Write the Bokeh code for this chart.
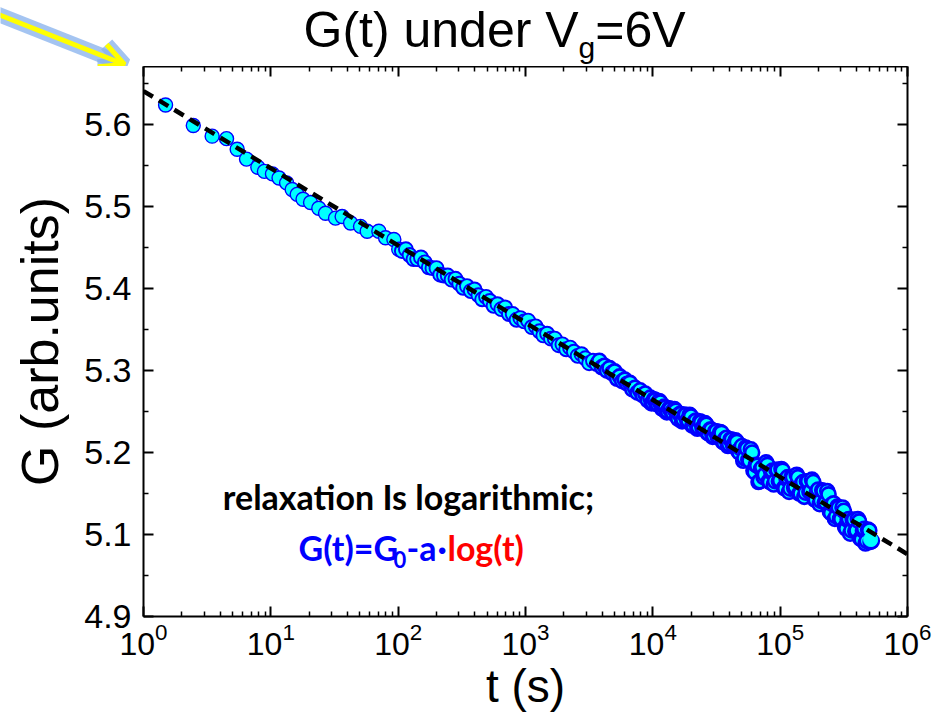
import math
from bokeh.plotting import figure
from bokeh.layouts import column
from bokeh.models import (FixedTicker, LogAxis, LinearAxis, Label, Arrow, OpenHead,
                          CustomJSTickFormatter, Range1d)
from bokeh.embed import file_html
from bokeh.resources import INLINE

# ---------------- data ----------------
t_early = [1.49, 2.46, 3.46, 4.49, 5.44, 6.44, 7.9, 8.9, 10.3, 11.6, 13.3, 14.7, 16.1,
           17.9, 20.5, 23.8, 26.9, 32.2, 36.3, 42.3, 50.6, 57.1, 70.5, 79.6, 92.5, 101]
g_early = [5.624, 5.599, 5.586, 5.583, 5.570, 5.558, 5.548, 5.543, 5.540, 5.535, 5.529,
           5.521, 5.515, 5.509, 5.505, 5.498, 5.492, 5.486, 5.488, 5.480, 5.476, 5.470,
           5.470, 5.462, 5.460, 5.448]

t_mid = [107, 115, 123, 132, 141, 151, 162, 174, 186, 200, 214, 229, 245, 263, 282, 302,
         324, 347, 372, 398, 427, 457, 490, 525, 562, 603, 646, 692, 741, 794, 851, 912,
         977, 1047, 1122, 1202, 1288, 1380, 1479, 1585, 1698, 1820, 1950, 2089, 2239,
         2399, 2570, 2754, 2951, 3162, 3388, 3631]
g_mid = [5.446, 5.448, 5.441, 5.436, 5.436, 5.438, 5.432, 5.426, 5.425, 5.425, 5.417,
         5.416, 5.416, 5.411, 5.412, 5.406, 5.401, 5.403, 5.397, 5.399, 5.392, 5.387,
         5.390, 5.385, 5.379, 5.381, 5.375, 5.377, 5.369, 5.369, 5.362, 5.364, 5.360,
         5.361, 5.353, 5.354, 5.348, 5.343, 5.345, 5.339, 5.339, 5.331, 5.332, 5.326,
         5.328, 5.323, 5.318, 5.320, 5.315, 5.309, 5.312, 5.308]

t_late_a = [3802, 3981, 4169, 4365, 4571, 4786, 5012, 5248, 5495, 5754, 6026, 6310, 6607,
            6918, 7244, 7586, 7943, 8318, 8710, 9120, 9550, 10000, 10470, 10960, 11480,
            12020, 12590, 13180, 13800, 14450, 15140, 15850, 16600, 17380, 18200, 19050,
            19950, 20890, 21880, 22910, 23990, 25120, 26300, 27540, 28840, 30200, 31620,
            33110, 34670, 36310, 38020, 39810, 41690, 43650, 45710, 47860, 50120, 52480,
            54950, 57540, 60260, 63100, 66070, 69180, 72440, 75860, 79430, 83180, 87100,
            91200, 95500, 100000, 104700, 109600, 114800, 120200, 125900, 131800, 138000,
            144500, 151400, 158500, 166000, 173800, 182000, 190500, 199500, 208900, 218800,
            229100, 239900, 251200, 263000, 275400, 288400, 302000, 316200, 331100, 346700,
            363100, 380200, 398100, 416900, 436500, 457100, 478600, 501200, 524800]
g_late_a = [5.312, 5.304, 5.306, 5.300, 5.303, 5.297, 5.299, 5.290, 5.293, 5.287, 5.289,
            5.284, 5.285, 5.277, 5.279, 5.273, 5.276, 5.270, 5.272, 5.264, 5.267, 5.261,
            5.264, 5.259, 5.261, 5.253, 5.255, 5.250, 5.253, 5.248, 5.251, 5.241, 5.247,
            5.240, 5.246, 5.239, 5.244, 5.233, 5.239, 5.231, 5.237, 5.230, 5.234, 5.223,
            5.228, 5.220, 5.226, 5.219, 5.224, 5.212, 5.218, 5.210, 5.216, 5.209, 5.213,
            5.200, 5.208, 5.193, 5.205, 5.190, 5.200, 5.176, 5.184, 5.165, 5.182, 5.173,
            5.185, 5.164, 5.178, 5.165, 5.179, 5.166, 5.178, 5.156, 5.170, 5.156, 5.170,
            5.158, 5.170, 5.150, 5.164, 5.151, 5.165, 5.153, 5.164, 5.142, 5.155, 5.141,
            5.153, 5.139, 5.149, 5.126, 5.138, 5.122, 5.133, 5.119, 5.129, 5.107, 5.119,
            5.105, 5.118, 5.105, 5.116, 5.094, 5.107, 5.092, 5.105, 5.092]

t_late_b = [9772, 10230, 10720, 11220, 11750, 12300, 12880, 13490, 14130, 14790, 15490,
            16220, 16980, 17780, 18620, 19500, 20420, 21380, 22390, 23440, 24550, 25700,
            26920, 28180, 29510, 30900, 32360, 33880, 35480, 37150, 38900, 40740, 42660,
            44670, 46770, 48980, 51290, 53700, 56230, 58880, 61660, 64570, 67610, 70790,
            74130, 77620, 81280, 85110, 89130, 93330, 97720, 102300, 107200, 112200,
            117500, 123000, 128800, 134900, 141300, 147900, 154900, 162200, 169800,
            177800, 186200, 195000, 204200, 213800, 223900, 234400, 245500, 257000,
            269200, 281800, 295100, 309000, 323600, 338800, 354800, 371500, 389000,
            407400, 426600, 446700, 467700, 489800, 512900]
g_late_b = [5.260, 5.265, 5.259, 5.263, 5.254, 5.256, 5.249, 5.254, 5.249, 5.253, 5.244,
            5.247, 5.238, 5.246, 5.239, 5.246, 5.233, 5.238, 5.229, 5.238, 5.230, 5.236,
            5.224, 5.228, 5.219, 5.226, 5.219, 5.225, 5.213, 5.217, 5.208, 5.216, 5.209,
            5.215, 5.202, 5.205, 5.190, 5.206, 5.191, 5.204, 5.178, 5.185, 5.164, 5.180,
            5.170, 5.188, 5.165, 5.176, 5.161, 5.179, 5.165, 5.180, 5.157, 5.168, 5.152,
            5.170, 5.157, 5.173, 5.150, 5.162, 5.146, 5.165, 5.152, 5.167, 5.143, 5.153,
            5.137, 5.154, 5.139, 5.153, 5.128, 5.137, 5.119, 5.134, 5.119, 5.133, 5.109,
            5.118, 5.101, 5.118, 5.104, 5.119, 5.095, 5.105, 5.089, 5.106, 5.091]

t_last = [513000]
g_last = [5.094]

late = sorted(zip(t_late_a + t_late_b, g_late_a + g_late_b))
t_late = [v[0] for v in late]
g_late = [v[1] for v in late]

# logarithmic fit G(t) = G0 - a*log(t): end points of the dashed line
fit_t = [1.0, 1.0e6]
fit_g = [5.641, 5.076]

x_tick_values = [1, 10, 100, 1000, 10000, 100000, 1000000]
x_minor_ticks = [m * 10 ** k for k in range(6) for m in range(2, 10)]
y_tick_values = [5.0, 5.1, 5.2, 5.3, 5.4, 5.5, 5.6]
y_tick_labels = ["4.9", "5.1", "5.2", "5.3", "5.4", "5.5", "5.6"]
y_minor_ticks = [5.05, 5.15, 5.25, 5.35, 5.45, 5.55, 5.65]

# ---------------- layout ----------------
W, H = 951, 727
STRIP = 66                                # height of the title strip
FL, FR, FT, FB = 143, 907, 67, 616        # frame edges (page pixels)
X0, X1 = 1.0, 1.0e6
Y0, Y1 = 5.0, 5.671
FONT = "Liberation Sans"
AF = "Lato"
BL = 0.45                                 # baseline correction (fraction of font size)


def px_to_t(px):
    lo, hi = math.log10(X0), math.log10(X1)
    return 10 ** (lo + (px - FL) / (FR - FL) * (hi - lo))


def py_to_g(py):
    return Y0 + (FB - py) / (FB - FT) * (Y1 - Y0)


# ---------------- title strip ----------------
s = figure(width=W, height=STRIP, x_range=Range1d(0, W), y_range=Range1d(STRIP, 0),
           output_backend="svg", toolbar_location=None, title=None,
           x_axis_location=None, y_axis_location=None,
           min_border_left=0, min_border_right=0, min_border_top=0, min_border_bottom=0)
s.frame_align = False
s.outline_line_color = None
s.xgrid.visible = False
s.ygrid.visible = False
s.background_fill_color = "white"
s.border_fill_color = "white"

AW = {"G": .778, "(": .333, "t": .278, ")": .333, " ": .278, "u": .556, "n": .556,
      "d": .556, "e": .556, "r": .333, "V": .667, "g": .556, "=": .584, "6": .556}


def aw(txt, size):
    return sum(AW[c] for c in txt) * size


TS, SS = 50, 30
tx = 303
for txt, size, base in [("G(t) under V", TS, 52), ("g", SS, 60), ("=6V", TS, 52)]:
    s.add_layout(Label(x=tx, y=base - BL * size, text=txt, text_font=FONT,
                       text_font_size=f"{size}px", text_color="black",
                       text_baseline="alphabetic"))
    tx += aw(txt, size)

ax0, ay0, ax1, ay1 = -12, 10, 124, 64
s.add_layout(Arrow(x_start=ax0, y_start=ay0, x_end=ax1, y_end=ay1,
                   line_color="#86b0ec", line_alpha=0.75, line_width=15,
                   end=OpenHead(size=24, line_color="#86b0ec", line_alpha=0.75, line_width=15)))
s.add_layout(Arrow(x_start=ax0, y_start=ay0, x_end=ax1, y_end=ay1,
                   line_color="#FFFF00", line_width=5,
                   end=OpenHead(size=24, line_color="#FFFF00", line_width=5)))

# ---------------- main plot ----------------
p = figure(width=W, height=H - STRIP, x_axis_type="log",
           x_range=Range1d(X0, X1), y_range=Range1d(Y0, Y1),
           output_backend="svg", toolbar_location=None, title=None,
           min_border_left=FL, min_border_right=W - FR,
           min_border_top=0, min_border_bottom=H - FB)
p.frame_align = False
p.outline_line_color = None
p.xgrid.visible = False
p.ygrid.visible = False
p.background_fill_color = "white"
p.border_fill_color = "white"

xt = FixedTicker(ticks=x_tick_values, minor_ticks=x_minor_ticks)
yt = FixedTicker(ticks=y_tick_values, minor_ticks=y_minor_ticks)
yfmt = CustomJSTickFormatter(args=dict(vals=y_tick_values, labs=y_tick_labels), code="""
let best = 0, bd = Infinity;
for (let i = 0; i < vals.length; i++) { const d = Math.abs(vals[i] - tick); if (d < bd) { bd = d; best = i; } }
return labs[best];
""")
blank = CustomJSTickFormatter(code="return '';")


def style_axis(ax):
    ax.axis_line_width = 2
    ax.axis_line_color = "black"
    ax.major_tick_line_width = 2
    ax.minor_tick_line_width = 1.5
    ax.major_tick_in = 10
    ax.major_tick_out = 0
    ax.minor_tick_in = 5
    ax.minor_tick_out = 0
    ax.major_label_text_font = FONT
    ax.major_label_text_color = "black"
    ax.axis_label_text_font = FONT
    ax.axis_label_text_font_style = "normal"
    ax.axis_label_text_color = "black"


xa = p.xaxis[0]
xa.ticker = xt
style_axis(xa)
xa.major_label_text_font_size = "32px"
xa.major_label_standoff = 6
xa.axis_label = "t (s)"
xa.axis_label_text_font_size = "46px"
xa.axis_label_standoff = 2

ya = p.yaxis[0]
ya.ticker = yt
ya.formatter = yfmt
style_axis(ya)
ya.major_label_text_font_size = "34px"
ya.major_label_standoff = 12
ya.axis_label = "G (arb.units)"
ya.axis_label_text_font_size = "52px"
ya.axis_label_standoff = 12

top = LogAxis(ticker=xt, formatter=blank)
style_axis(top)
top.major_label_text_font_size = "1px"
top.major_label_standoff = 0
p.add_layout(top, "above")
right = LinearAxis(ticker=yt, formatter=blank)
style_axis(right)
right.major_label_text_font_size = "1px"
right.major_label_standoff = 0
p.add_layout(right, "right")

p.scatter(t_early, g_early, size=14, fill_color="#00FFFF", line_color="#0000FF", line_width=1.4)
p.scatter(t_mid, g_mid, size=14, fill_color="#00FFFF", line_color="#0000FF", line_width=1.9)
p.scatter(t_late, g_late, size=14, fill_color="#00FFFF", line_color="#0000FF", line_width=2.6)
p.scatter(t_last, g_last, size=14, fill_color="#00FFFF", line_color="#00FFFF", line_width=1)
p.line(fit_t, fit_g, line_color="black", line_width=4.5, line_dash="11 7")

# annotation text (page pixel positions converted to data)
LS = 34
p.add_layout(Label(x=px_to_t(408), y=py_to_g(512 - BL * LS), text="relaxation Is logarithmic;",
                   text_font=AF, text_font_style="bold", text_font_size=f"{LS}px",
                   text_color="black", text_align="center", text_baseline="alphabetic"))
pieces = [("G(t)=G", 298, 562, LS, "#0000FF"),
          ("0", 393, 569, 22, "#0000FF"),
          ("-a", 406, 562, LS, "#0000FF"),
          ("\u00b7", 437, 562, LS, "#0000FF"),
          ("log(t)", 447, 562, LS, "#FF0000")]
for txt, px, py, fs, col in pieces:
    p.add_layout(Label(x=px_to_t(px), y=py_to_g(py - BL * fs), text=txt, text_font=AF,
                       text_font_style="bold", text_font_size=f"{fs}px",
                       text_color=col, text_baseline="alphabetic"))

open("out.html", "w").write(file_html(column(s, p), INLINE))
